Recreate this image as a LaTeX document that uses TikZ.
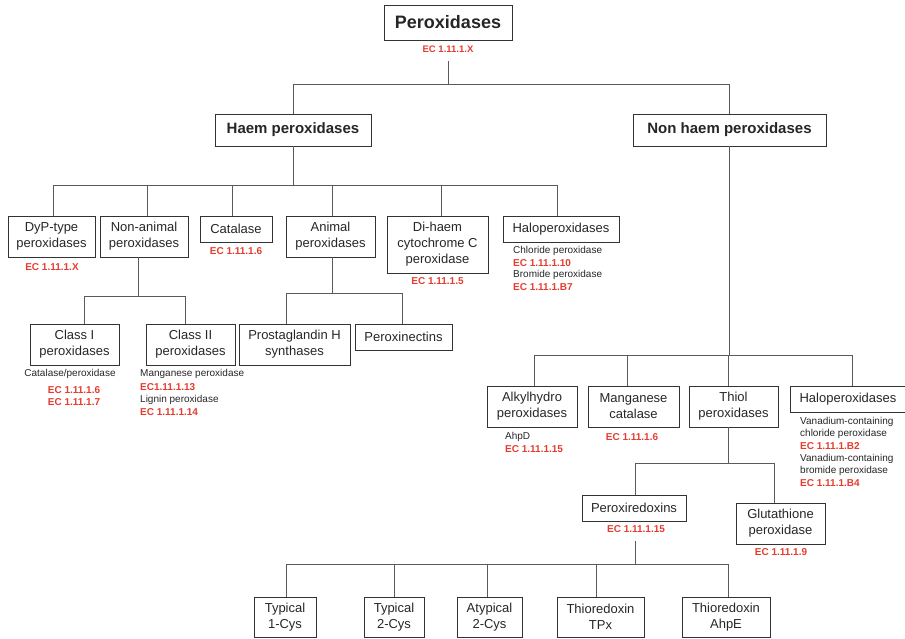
\documentclass[tikz,border=0pt]{standalone}
\usepackage{fontspec}
\setmainfont{Liberation Sans}
\definecolor{ecred}{HTML}{E63B2E}
\definecolor{txt}{HTML}{262626}
\definecolor{ln}{HTML}{5A5A5A}
\definecolor{bx}{HTML}{333333}
\begin{document}
\begin{tikzpicture}[x=1pt,y=-1pt,
 box/.style={draw=bx, line width=0.95pt, inner sep=0pt, align=center, text=txt, font=\fontsize{13}{16}\selectfont},
 ec/.style={text=ecred, font=\fontsize{10}{12}\selectfont\bfseries, inner sep=0pt},
 note/.style={text=txt, font=\fontsize{10}{12}\selectfont, inner sep=0pt, anchor=west},
 ecl/.style={ec, anchor=west},
 conn/.style={draw=ln, line width=1pt}]
\useasboundingbox (0,0) rectangle (905,638);

% level 0
\node[box, minimum width=128, minimum height=35, font=\fontsize{18}{20}\selectfont\bfseries] (top) at (448,22.5) {Peroxidases};
\node[ec, font=\fontsize{9.5}{12}\selectfont\bfseries] (topec) at (448,49) {EC 1.11.1.X};
% level 1
\node[box, minimum width=156, minimum height=32, font=\fontsize{15}{18}\selectfont\bfseries] (haem) at (293,130) {Haem peroxidases};
\node[box, minimum width=193, minimum height=32, font=\fontsize{15}{18}\selectfont\bfseries] (nonhaem) at (729.5,130) {Non haem peroxidases};

% haem children
\node[box, minimum width=87, minimum height=41] (dyp) at (51.5,236.5) {DyP-type\\peroxidases};
\node[ec] (dypec) at (52,267) {EC 1.11.1.X};
\node[box, minimum width=88, minimum height=41] (nonanimal) at (144,236.5) {Non-animal\\peroxidases};
\node[box, minimum width=72, minimum height=26] (catalase) at (236,229) {Catalase};
\node[ec] (catec) at (236,251) {EC 1.11.1.6};
\node[box, minimum width=89, minimum height=41] (animal) at (330.5,236.5) {Animal\\peroxidases};
\node[box, minimum width=101, minimum height=57] (dihaem) at (437.5,244.5) {Di-haem\\cytochrome C\\peroxidase};
\node[ec] (dihaemec) at (437.5,281) {EC 1.11.1.5};
\node[box, minimum width=116, minimum height=26] (haloA) at (561,229) {Haloperoxidases};
\node[note] (haloA1) at (513,251) {Chloride peroxidase};
\node[ecl] (haloA2) at (513,263) {EC 1.11.1.10};
\node[note] (haloA3) at (513,275) {Bromide peroxidase};
\node[ecl] (haloA4) at (513,287) {EC 1.11.1.B7};

% non-animal children
\node[box, minimum width=89, minimum height=41] (class1) at (74.5,344.5) {Class I\\peroxidases};
\node[note, anchor=center] (class1a) at (70,374) {Catalase/peroxidase};
\node[ec] (class1b) at (74,390) {EC 1.11.1.6};
\node[ec] (class1c) at (74,402) {EC 1.11.1.7};
\node[box, minimum width=89, minimum height=41] (class2) at (190.5,344.5) {Class II\\peroxidases};
\node[note] (class2a) at (140,374) {Manganese peroxidase};
\node[ecl] (class2b) at (140,387) {EC1.11.1.13};
\node[note] (class2c) at (140,399.5) {Lignin peroxidase};
\node[ecl] (class2d) at (140,412) {EC 1.11.1.14};

% animal children
\node[box, minimum width=111, minimum height=41] (prosta) at (294.5,344.5) {Prostaglandin H\\synthases};
\node[box, minimum width=97, minimum height=26] (peroxin) at (403.5,337) {Peroxinectins};

% non haem children
\node[box, minimum width=90, minimum height=41] (alkyl) at (532,406.5) {Alkylhydro\\peroxidases};
\node[note] (alkyla) at (505,437) {AhpD};
\node[ecl] (alkylb) at (505,449) {EC 1.11.1.15};
\node[box, minimum width=91, minimum height=41] (mncat) at (633.5,406.5) {Manganese\\catalase};
\node[ec] (mncatec) at (632,437) {EC 1.11.1.6};
\node[box, minimum width=89, minimum height=41] (thiol) at (733.5,406.5) {Thiol\\peroxidases};
\node[box, minimum width=116, minimum height=26] (haloB) at (848,399) {Haloperoxidases};
\node[note] (haloB1) at (800,422) {Vanadium-containing};
\node[note] (haloB2) at (800,434) {chloride peroxidase};
\node[ecl] (haloB3) at (800,446) {EC 1.11.1.B2};
\node[note] (haloB4) at (800,458.5) {Vanadium-containing};
\node[note] (haloB5) at (800,470.5) {bromide peroxidase};
\node[ecl] (haloB6) at (800,483) {EC 1.11.1.B4};

% thiol children
\node[box, minimum width=104, minimum height=26] (perox) at (634,508) {Peroxiredoxins};
\node[ec] (peroxec) at (636,529) {EC 1.11.1.15};
\node[box, minimum width=89, minimum height=41] (gluta) at (780.5,523.5) {Glutathione\\peroxidase};
\node[ec] (glutaec) at (781,552) {EC 1.11.1.9};

% peroxiredoxin children
\node[box, minimum width=62, minimum height=40] (t1) at (285,617) {Typical\\1-Cys};
\node[box, minimum width=60, minimum height=40] (t2) at (394,617) {Typical\\2-Cys};
\node[box, minimum width=65, minimum height=40] (at2) at (489.5,617) {Atypical\\2-Cys};
\node[box, minimum width=87, minimum height=40] (tpx) at (600.5,617) {Thioredoxin\\TPx};
\node[box, minimum width=88, minimum height=40] (ahpe) at (726,617) {Thioredoxin\\AhpE};

% connectors
\coordinate (t0) at (448,61);
\coordinate (b0) at (448,84);
\draw[conn] (t0) -- (b0);
\draw[conn] (b0) -| (haem.north);
\draw[conn] (b0) -| (nonhaem.north);

\coordinate (b1) at (293,185);
\draw[conn] (haem.south) -- (b1);
\draw[conn] (b1) -| ([xshift=1.5]dyp.north);
\draw[conn] (b1) -| ([xshift=3]nonanimal.north);
\draw[conn] (b1) -| ([xshift=-4]catalase.north);
\draw[conn] (b1) -| ([xshift=1.5]animal.north);
\draw[conn] (b1) -| ([xshift=3.5]dihaem.north);
\draw[conn] (b1) -| ([xshift=-4]haloA.north);

\coordinate (b2) at (138,296);
\draw[conn] ([xshift=-6]nonanimal.south) -- (b2);
\draw[conn] (b2) -| ([xshift=9.5]class1.north);
\draw[conn] (b2) -| ([xshift=-5.5]class2.north);

\coordinate (b3) at (332,293);
\draw[conn] ([xshift=1.5]animal.south) -- (b3);
\draw[conn] (b3) -| ([xshift=-8.5]prosta.north);
\draw[conn] (b3) -| ([xshift=-1.5]peroxin.north);

\coordinate (b4) at (729,355);
\draw[conn] ([xshift=-0.5]nonhaem.south) -- (b4);
\draw[conn] (b4) -| ([xshift=2]alkyl.north);
\draw[conn] (b4) -| ([xshift=-6.5]mncat.north);
\draw[conn] (b4) -| ([xshift=-5.5]thiol.north);
\draw[conn] (b4) -| ([xshift=4]haloB.north);

\coordinate (b5) at (728,463);
\draw[conn] ([xshift=-5.5]thiol.south) -- (b5);
\draw[conn] (b5) -| ([xshift=1]perox.north);
\draw[conn] (b5) -| ([xshift=-6.5]gluta.north);

\coordinate (p0) at (635,541);
\coordinate (b6) at (635,564);
\draw[conn] (p0) -- (b6);
\draw[conn] (b6) -| ([xshift=1]t1.north);
\draw[conn] (b6) -| (t2.north);
\draw[conn] (b6) -| ([xshift=-2.5]at2.north);
\draw[conn] (b6) -| ([xshift=-4.5]tpx.north);
\draw[conn] (b6) -| ([xshift=2]ahpe.north);
\end{tikzpicture}
\end{document}
